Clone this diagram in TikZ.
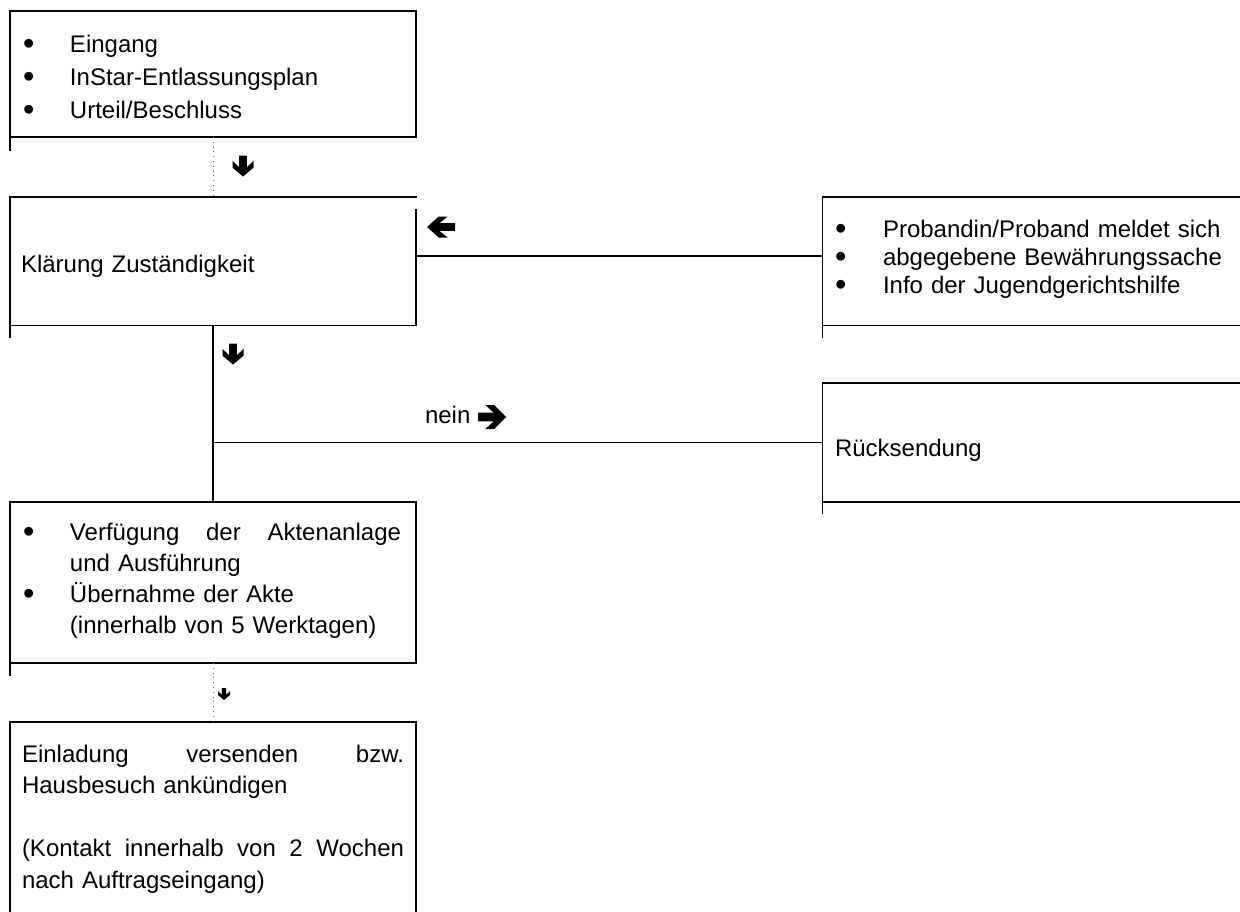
\documentclass[tikz,border=0pt]{standalone}
\usepackage{fontspec}
\usepackage{graphicx}
\setmainfont{Liberation Sans}
\newcommand{\bul}{\smash{\raisebox{-1.3pt}{\scalebox{1.35}{\textbullet}}}}
\begin{document}
\begin{tikzpicture}[x=0.5pt,y=-0.5pt,
  border/.style={line width=0.8pt, line cap=rect},
  dotline/.style={dotted, line width=0.4pt, black!60},
  cell/.style={draw=none, inner sep=0pt, outer sep=0pt, anchor=north west},
  txt/.style={anchor=base west, inner sep=0pt, outer sep=0pt, align=left, text width=#1},
  txt/.default=190pt,
  fatarrow/.pic={\fill (-0.5,0.18) -- (0.06,0.18) -- (-0.24,0.5) -- (0.08,0.5) -- (0.5,0) -- (0.08,-0.5) -- (-0.24,-0.5) -- (0.06,-0.18) -- (-0.5,-0.18) -- cycle;}
]
\useasboundingbox (0,0) rectangle (1240,911);
\fill[white] (0,0) rectangle (1240,911);

% cells
\node[cell, minimum width=203pt, minimum height=63pt] (b1) at (10,11) {};
\node[cell, minimum width=203pt, minimum height=64.25pt] (b2) at (10,197) {};
\node[cell, minimum width=208.75pt, minimum height=64.25pt] (b3) at (822.5,197) {};
\node[cell, minimum width=208.75pt, minimum height=59.5pt] (b6) at (822.5,383) {};
\node[cell, minimum width=203pt, minimum height=80.5pt] (b4) at (10,502) {};
\node[cell, minimum width=203pt, minimum height=94.5pt] (b5) at (10,722) {};

% borders
\draw[border] (b1.north west) -- (b1.north east) -- (b1.south east) -- (b1.south west);
\draw[border] (b1.north west) -- ++(0,139);
\draw[border] (b2.north east) -- (b2.north west) -- ++(0,140);
\draw[border] ([yshift=-6.5pt]b2.north east) -- (b2.south east) -- (b2.south west);
\draw[border] (b3.north east) -- (b3.north west) -- ++(0,140);
\draw[border] (b3.south west) -- (b3.south east);
\draw[border] (b6.north east) -- (b6.north west) -- ++(0,130);
\draw[border] (b6.south west) -- (b6.south east);
\draw[border] (b4.north west) -- (b4.north east) -- (b4.south east) -- (b4.south west);
\draw[border] (b4.north west) -- ++(0,173);
\draw[border] (b5.south west) -- (b5.north west) -- (b5.north east) -- (b5.south east);

% connectors
\draw[dotline] (b1.south) -- (b2.north);
\draw[border] (b2.south) -- (b4.north);
\draw[border] ([yshift=2.75pt]b2.east) -- ([yshift=2.75pt]b3.west);
\draw[border] (b6.west) -- (b6.west -| b2.south);
\draw[dotline] (b4.south) -- (b5.north);

% arrows
\pic[rotate=-90, xscale=21, yscale=21] (a1) at (243,166) {fatarrow};
\pic[rotate=180, xscale=28, yscale=21] (a2) at (441,227) {fatarrow};
\pic[rotate=-90, xscale=21, yscale=21] (a3) at (233,354) {fatarrow};
\pic[xscale=28, yscale=24] (a4) at (492,417) {fatarrow};
\pic[rotate=-90, xscale=12, yscale=12] (a5) at (224,694) {fatarrow};

% texts
\node[txt=196pt, font=\fontsize{12}{16.5}\selectfont] (t1) at (23,52)
  {\makebox[23.5pt][l]{\bul}Eingang\\
   \makebox[23.5pt][l]{\bul}InStar-Entlassungsplan\\
   \makebox[23.5pt][l]{\bul}Urteil/Beschluss};
\node[txt=190pt, font=\fontsize{12}{14}\selectfont] (t2) at (21,272) {Klärung Zuständigkeit};
\node[txt=198pt, font=\fontsize{12}{14}\selectfont] (t3) at (835,237)
  {\makebox[24pt][l]{\bul}Probandin/Proband meldet sich\\
   \makebox[24pt][l]{\bul}abgegebene Bewährungssache\\
   \makebox[24pt][l]{\bul}Info der Jugendgerichtshilfe};
\node[txt=190pt, font=\fontsize{12}{14}\selectfont] (t6) at (835,456) {Rücksendung};
\node[txt=60pt, font=\fontsize{12}{14}\selectfont] (nein) at (425,423) {nein};
\node[txt=196pt, font=\fontsize{12}{15.5}\selectfont] (t4) at (23,540)
  {\makebox[23.5pt][l]{\bul}\makebox[165.5pt][s]{Verfügung\hfill der\hfill Aktenanlage}\\
   \hspace*{23.5pt}und Ausführung\\
   \makebox[23.5pt][l]{\bul}Übernahme der Akte\\
   \hspace*{23.5pt}(innerhalb von 5 Werktagen)};
\node[txt=196pt, font=\fontsize{12}{15.75}\selectfont] (t5) at (22,762)
  {\makebox[191pt][s]{Einladung\hfill versenden\hfill bzw.}\\
   Hausbesuch ankündigen\\[15.75pt]
   \makebox[191pt][s]{(Kontakt\hfill innerhalb\hfill von\hfill 2\hfill Wochen}\\
   nach Auftragseingang)};
\end{tikzpicture}
\end{document}
